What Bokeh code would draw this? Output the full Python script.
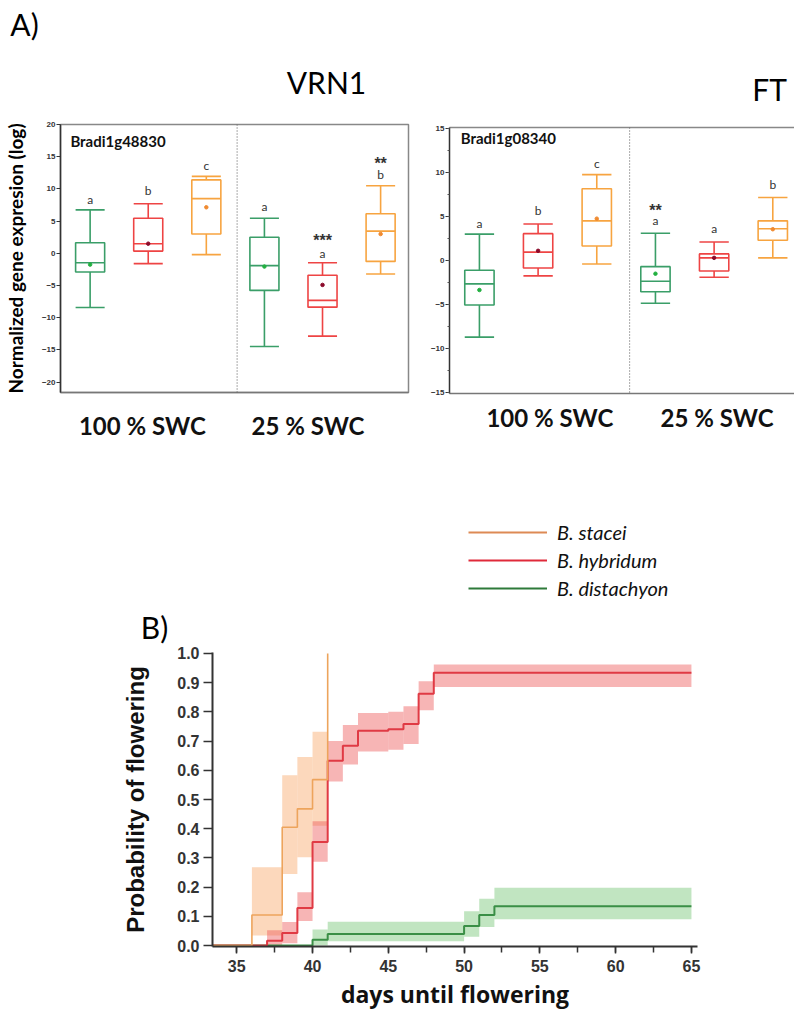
from bokeh.plotting import figure
from bokeh.models import (Range1d, LinearAxis, FixedTicker, SingleIntervalTicker, Span, Label,
                          ColumnDataSource, Legend, LegendItem, NumeralTickFormatter)
from bokeh.layouts import column, row
from bokeh.transform import dodge
from bokeh.embed import file_html
from bokeh.resources import INLINE
from bokeh.core.properties import value

# ---------------- Panel A data ----------------
positions = [0, 1, 2, 3, 4, 5]
box_species = ["B. distachyon", "B. hybridum", "B. stacei"] * 2
swc_labels = ["100 % SWC", "25 % SWC"]

vrn1_gene = "Bradi1g48830"
vrn1_low = [-8.4, -1.6, -0.2, -14.45, -12.85, -3.2]
vrn1_q1 = [-2.9, 0.35, 3.0, -5.75, -8.35, -1.25]
vrn1_med = [-1.45, 1.5, 8.5, -1.9, -7.3, 3.45]
vrn1_q3 = [1.65, 5.45, 11.4, 2.5, -3.4, 6.15]
vrn1_high = [6.75, 7.7, 11.95, 5.45, -1.45, 10.5]
vrn1_mean = [-1.75, 1.5, 7.15, -2.05, -4.9, 3.0]
vrn1_letters = ["a", "b", "c", "a", "a", "b"]
vrn1_letter_y = [8.4, 9.8, 13.7, 7.3, -0.1, 12.2]
vrn1_star_x = [4, 5]
vrn1_star_y = [2.0, 14.0]
vrn1_stars = ["***", "**"]

ft_gene = "Bradi1g08340"
ft_low = [-8.7, -1.75, -0.4, -4.85, -1.9, 0.3]
ft_q1 = [-5.05, -0.85, 1.65, -3.55, -1.2, 2.3]
ft_med = [-2.65, 0.95, 4.5, -2.35, 0.3, 3.6]
ft_q3 = [-1.1, 3.05, 8.15, -0.7, 0.75, 4.5]
ft_high = [3.0, 4.15, 9.75, 3.1, 2.1, 7.15]
ft_mean = [-3.35, 1.1, 4.75, -1.5, 0.3, 3.55]
ft_letters = ["a", "b", "c", "a", "a", "b"]
ft_letter_y = [4.2, 5.7, 11.0, 4.5, 3.6, 8.6]
ft_star_x = [3]
ft_star_y = [5.7]
ft_stars = ["**"]

# ---------------- Panel B data ----------------
stacei_days = [33.4, 36, 38, 39, 40, 41]
stacei_prob = [0.0, 0.105, 0.405, 0.468, 0.568, 1.0]
stacei_ci_start = [36, 38, 39, 40]
stacei_ci_end = [38, 39, 40, 41]
stacei_ci_low = [0.035, 0.245, 0.302, 0.41]
stacei_ci_high = [0.268, 0.583, 0.645, 0.732]

hybridum_days = [33.4, 37, 38, 39, 40, 41, 42, 43, 45, 46, 47, 48, 65]
hybridum_prob = [0.0, 0.017, 0.043, 0.129, 0.355, 0.633, 0.684, 0.735, 0.74, 0.758, 0.862, 0.934, 0.934]
hybridum_ci_start = [37, 38, 39, 40, 41, 42, 43, 45, 46, 47, 48]
hybridum_ci_end = [38, 39, 40, 41, 42, 43, 45, 46, 47, 48, 65]
hybridum_ci_low = [0.0, 0.008, 0.084, 0.287, 0.562, 0.62, 0.664, 0.67, 0.69, 0.805, 0.885]
hybridum_ci_high = [0.053, 0.081, 0.183, 0.426, 0.70, 0.755, 0.796, 0.80, 0.819, 0.905, 0.962]

distachyon_days = [33.4, 40, 41, 50, 51, 52, 65]
distachyon_prob = [0.0, 0.02, 0.04, 0.067, 0.105, 0.135, 0.135]
distachyon_ci_start = [40, 41, 50, 51, 52]
distachyon_ci_end = [41, 50, 51, 52, 65]
distachyon_ci_low = [0.0, 0.015, 0.03, 0.064, 0.09]
distachyon_ci_high = [0.055, 0.082, 0.118, 0.16, 0.198]

species_names = ["B. stacei", "B. hybridum", "B. distachyon"]

# ---------------- styles ----------------
BOX_LINE = {"B. distachyon": "#3A9E68", "B. hybridum": "#EE4444", "B. stacei": "#F7A440"}
MEAN_COL = {"B. distachyon": "#22B040", "B. hybridum": "#8B0A2A", "B. stacei": "#F08A30"}
CURVE_COL = {"B. stacei": "#EDA45C", "B. hybridum": "#E03A44", "B. distachyon": "#3A8F46"}
LEGEND_COL = {"B. stacei": "#DD8A55", "B. hybridum": "#E02A3A", "B. distachyon": "#2E7A3A"}
CURVE_W = {"B. stacei": 1.6, "B. hybridum": 2, "B. distachyon": 2}
BOX_W = 0.5
CAL = "Lato"
ARIAL = "Liberation Sans"
NAN = float("nan")


def header(width, height):
    h = figure(width=width, height=height, x_range=Range1d(0, width), y_range=Range1d(height, 0),
               output_backend="svg", toolbar_location=None, x_axis_type=None, y_axis_type=None,
               min_border=0)
    h.grid.visible = False
    h.outline_line_color = None
    return h


def box_panel(width, height, mb, xr, yr, lo, q1, med, q3, hi, mean, letters, letter_y,
              star_x, star_y, stars, gene, gene_xy, sep, cat_ticks, minor, left_label,
              outline, cat_standoff):
    p = figure(width=width, height=height, x_range=Range1d(*xr), y_range=Range1d(*yr),
               output_backend="svg", toolbar_location=None,
               min_border_left=mb[0], min_border_right=mb[1], min_border_top=mb[2],
               min_border_bottom=mb[3])
    p.grid.visible = False
    p.background_fill_color = "white"
    p.border_fill_color = "white"

    src = ColumnDataSource(dict(x=positions, lo=lo, q1=q1, med=med, q3=q3, hi=hi, mean=mean,
                                color=[BOX_LINE[s] for s in box_species],
                                mcolor=[MEAN_COL[s] for s in box_species]))
    lw = 1.6
    p.segment(x0="x", y0="q3", x1="x", y1="hi", source=src, line_color="color", line_width=lw)
    p.segment(x0="x", y0="lo", x1="x", y1="q1", source=src, line_color="color", line_width=lw)
    p.segment(x0=dodge("x", -BOX_W / 2), y0="hi", x1=dodge("x", BOX_W / 2), y1="hi",
              source=src, line_color="color", line_width=lw)
    p.segment(x0=dodge("x", -BOX_W / 2), y0="lo", x1=dodge("x", BOX_W / 2), y1="lo",
              source=src, line_color="color", line_width=lw)
    p.vbar(x="x", width=BOX_W, bottom="q1", top="q3", source=src, fill_color=None,
           line_color="color", line_width=lw)
    p.segment(x0=dodge("x", -BOX_W / 2), y0="med", x1=dodge("x", BOX_W / 2), y1="med",
              source=src, line_color="color", line_width=lw)
    p.scatter(x="x", y="mean", source=src, size=3.5, color="mcolor")

    p.text(x=positions, y=letter_y, text=letters, text_align="center", text_baseline="middle",
           text_font=value(CAL), text_font_size="12px", text_color="#333333")
    p.text(x=star_x, y=star_y, text=stars, text_align="center", text_baseline="middle",
           text_font=value(ARIAL), text_font_size="16px", text_font_style="bold",
           text_color="#333333")

    p.add_layout(Span(location=sep, dimension="height", line_color="#555555",
                      line_dash="1 2", line_width=1))
    p.add_layout(Label(x=gene_xy[0], y=gene_xy[1], text=gene, text_font=CAL,
                       text_font_style="bold", text_font_size="15px", text_color="#111111",
                       text_baseline="middle", text_align="left"))

    ya = p.left[0]
    ya.ticker = SingleIntervalTicker(interval=5, num_minor_ticks=minor)
    ya.major_tick_out = 4
    ya.major_tick_in = 0
    ya.minor_tick_out = 2
    ya.minor_tick_in = 0
    ya.major_label_standoff = 1
    ya.major_label_text_font = ARIAL
    ya.major_label_text_font_style = "bold"
    ya.major_label_text_font_size = "8px"
    ya.major_label_text_color = "#333333"
    ya.axis_line_color = "#333333"
    ya.axis_line_width = 1.5
    ya.major_tick_line_color = "#333333"
    ya.minor_tick_line_color = "#555555"
    if left_label:
        ya.axis_label = left_label
        ya.axis_label_text_font = CAL
        ya.axis_label_text_font_style = "bold"
        ya.axis_label_text_font_size = "19px"
        ya.axis_label_text_color = "#000000"
        ya.axis_label_standoff = 12

    xa = p.below[0]
    xa.ticker = FixedTicker(ticks=cat_ticks)
    xa.major_label_overrides = {t: lab for t, lab in zip(cat_ticks, swc_labels)}
    xa.major_tick_line_color = None
    xa.minor_tick_line_color = None
    xa.major_label_standoff = cat_standoff
    xa.major_label_text_font = CAL
    xa.major_label_text_font_style = "bold"
    xa.major_label_text_font_size = "24px"
    xa.major_label_text_color = "#111111"
    xa.axis_line_color = "#777777"
    xa.axis_line_width = 1.5

    if outline:
        p.outline_line_color = "#888888"
        p.outline_line_width = 1.5
    else:
        p.outline_line_color = None
        top = LinearAxis(ticker=FixedTicker(ticks=[]), axis_line_color="#888888",
                         axis_line_width=1.5, major_tick_line_color=None,
                         minor_tick_line_color=None, major_label_text_font_size="0px")
        p.add_layout(top, "above")
    return p


# ---------------- header of panel A ----------------
hA = header(794, 108)
for txt, cx, cy in [("A)", 24, 23), ("VRN1", 326, 81), ("FT", 769, 88)]:
    hA.add_layout(Label(x=cx, y=cy, text=txt, text_font=CAL, text_font_size="30px",
                        text_align="center", text_baseline="middle", text_color="#000000"))

p1 = box_panel(420, 334, (58, 12, 16, 50), (-0.51, 5.48), (-21.6, 20.0),
               vrn1_low, vrn1_q1, vrn1_med, vrn1_q3, vrn1_high, vrn1_mean,
               vrn1_letters, vrn1_letter_y, vrn1_star_x, vrn1_star_y, vrn1_stars,
               vrn1_gene, (-0.34, 17.5), 2.53, [0.9, 3.75], 0,
               "Normalized gene expresion (log)", True, 12)

p2 = box_panel(374, 334, (29, 0, 19, 49), (-0.51, 5.37), (-15.1, 15.1),
               ft_low, ft_q1, ft_med, ft_q3, ft_high, ft_mean,
               ft_letters, ft_letter_y, ft_star_x, ft_star_y, ft_stars,
               ft_gene, (-0.32, 13.9), 2.56, [1.2, 4.05], 2, None, False, 3)

# ---------------- header of panel B (legend) ----------------
hB = header(794, 202)
hB.add_layout(Label(x=154, y=184, text="B)", text_font=CAL, text_font_size="30px",
                    text_align="center", text_baseline="middle", text_color="#000000"))
legend_renderers = [hB.line(x=[NAN, NAN], y=[NAN, NAN], line_color=LEGEND_COL[s], line_width=2)
                    for s in species_names]
legend = Legend(items=[LegendItem(label=s, renderers=[r])
                       for s, r in zip(species_names, legend_renderers)],
                location=(468, 42), glyph_width=79, glyph_height=28, label_height=28,
                spacing=0, padding=0, margin=0, label_standoff=10,
                border_line_color=None, background_fill_alpha=0,
                label_text_font=CAL, label_text_font_style="italic",
                label_text_font_size="20px", label_text_color="#111111")
hB.add_layout(legend)

# ---------------- Panel B ----------------
pb = figure(width=794, height=368, x_range=Range1d(33.4, 65.4), y_range=Range1d(-0.003, 1.003),
            output_backend="svg", toolbar_location=None,
            min_border_left=212, min_border_right=97, min_border_top=8, min_border_bottom=65)
pb.grid.visible = False
pb.outline_line_color = None
pb.background_fill_color = "white"
pb.border_fill_color = "white"

pb.quad(left=distachyon_ci_start, right=distachyon_ci_end, bottom=distachyon_ci_low,
        top=distachyon_ci_high, fill_color="#6CC06C", fill_alpha=0.42, line_color=None)
pb.quad(left=stacei_ci_start, right=stacei_ci_end, bottom=stacei_ci_low,
        top=stacei_ci_high, fill_color="#F9B27A", fill_alpha=0.5, line_color=None)
pb.quad(left=hybridum_ci_start, right=hybridum_ci_end, bottom=hybridum_ci_low,
        top=hybridum_ci_high, fill_color="#EE5A5A", fill_alpha=0.45, line_color=None)

curves = {"B. distachyon": (distachyon_days, distachyon_prob),
          "B. hybridum": (hybridum_days, hybridum_prob),
          "B. stacei": (stacei_days, stacei_prob)}
for s in ["B. distachyon", "B. hybridum", "B. stacei"]:
    d, pr = curves[s]
    pb.step(x=d, y=pr, mode="after", line_color=CURVE_COL[s], line_width=CURVE_W[s])

xb = pb.below[0]
xb.ticker = SingleIntervalTicker(interval=5, num_minor_ticks=2)
xb.axis_label = "days until flowering"
xb.axis_label_text_font = "Open Sans"
xb.axis_label_text_font_style = "bold"
xb.axis_label_text_font_size = "23px"
xb.axis_label_text_color = "#111111"
xb.axis_label_standoff = 3
xb.major_label_standoff = 6
xb.major_label_text_font = ARIAL
xb.major_label_text_font_style = "bold"
xb.major_label_text_font_size = "16px"
xb.major_label_text_color = "#333333"
xb.axis_line_color = "#333333"
xb.axis_line_width = 2
xb.major_tick_out = 7
xb.major_tick_in = 0
xb.minor_tick_out = 6
xb.minor_tick_in = 0
xb.major_tick_line_color = "#333333"
xb.minor_tick_line_color = "#333333"
xb.major_tick_line_width = 1.5
xb.minor_tick_line_width = 1.5

yb = pb.left[0]
yb.ticker = SingleIntervalTicker(interval=0.1, num_minor_ticks=0)
yb.formatter = NumeralTickFormatter(format="0.0")
yb.axis_label = "Probability of flowering"
yb.axis_label_text_font = ARIAL
yb.axis_label_text_font_style = "bold"
yb.axis_label_text_font_size = "24px"
yb.axis_label_text_color = "#111111"
yb.axis_label_standoff = 25
yb.major_label_standoff = 4
yb.major_label_text_font = ARIAL
yb.major_label_text_font_style = "bold"
yb.major_label_text_font_size = "16px"
yb.major_label_text_color = "#333333"
yb.axis_line_color = "#333333"
yb.axis_line_width = 2
yb.major_tick_out = 9
yb.major_tick_in = 0
yb.major_tick_line_color = "#333333"
yb.major_tick_line_width = 1.5

layout = column(row(hA), row(column(p1), column(p2)), row(hB), row(pb))
open("out.html", "w").write(file_html(layout, INLINE))
